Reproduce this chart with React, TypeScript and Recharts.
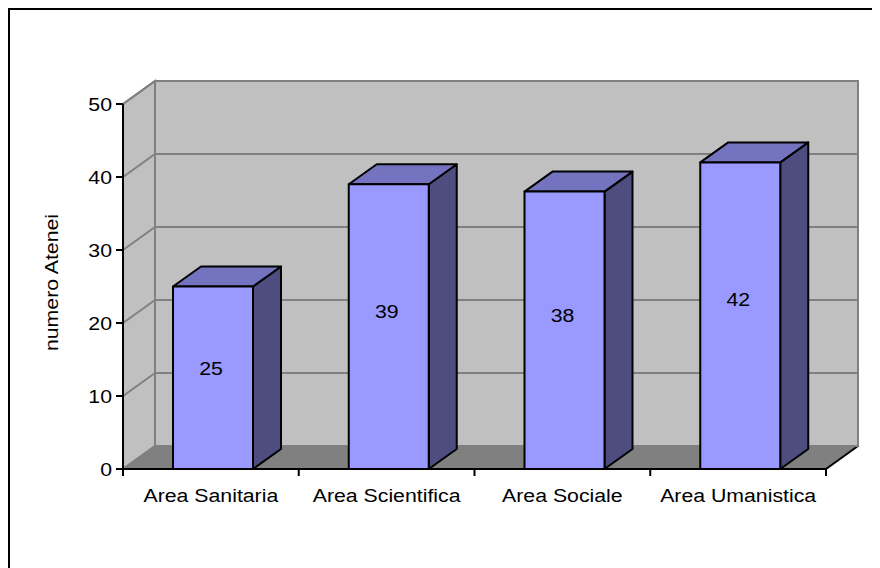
import { BarChart, Bar, XAxis, YAxis, CartesianGrid, LabelList } from "recharts";

const categories = ["Area Sanitaria", "Area Scientifica", "Area Sociale", "Area Umanistica"];
const atenei = [25, 39, 38, 42];
const yTicks = [0, 10, 20, 30, 40, 50];

const data = categories.map((name, i) => ({ name, atenei: atenei[i] }));

// chart layout (chart-local px)
const W = 870;
const H = 558;
const PLOT_TOP = 94;
const PLOT_BOTTOM = 459;
const PLOT_LEFT = 113;
const PLOT_RIGHT = 816;
const BAND = (PLOT_RIGHT - PLOT_LEFT) / categories.length;

// 3d depth of walls and bars
const DX = 32;
const DY = -23;
const BDX = 28;
const BDY = -20;

const FONT = "'Liberation Sans', Arial, sans-serif";
const FS = 19;
const SX = 1.12;

const wallGray = "#C0C0C0";
const floorGray = "#808080";
const gridGray = "#808080";

const walls = (
  <g>
    <rect
      x={PLOT_LEFT + DX}
      y={PLOT_TOP + DY}
      width={PLOT_RIGHT - PLOT_LEFT}
      height={PLOT_BOTTOM - PLOT_TOP}
      fill={wallGray}
      stroke={gridGray}
      strokeWidth={2}
    />
    <polygon
      points={`${PLOT_LEFT},${PLOT_TOP} ${PLOT_LEFT + DX},${PLOT_TOP + DY} ${PLOT_LEFT + DX},${PLOT_BOTTOM + DY} ${PLOT_LEFT},${PLOT_BOTTOM}`}
      fill={wallGray}
      stroke={gridGray}
      strokeWidth={2}
    />
    <polygon
      points={`${PLOT_LEFT},${PLOT_BOTTOM} ${PLOT_LEFT + DX},${PLOT_BOTTOM + DY} ${PLOT_RIGHT + DX},${PLOT_BOTTOM + DY} ${PLOT_RIGHT},${PLOT_BOTTOM}`}
      fill={floorGray}
    />
    <line
      x1={PLOT_RIGHT}
      y1={PLOT_BOTTOM}
      x2={PLOT_RIGHT + DX}
      y2={PLOT_BOTTOM + DY}
      stroke="#000"
      strokeWidth={2}
    />
  </g>
);

const gridLine = (p: any) => {
  const { x1, x2, y1, index } = p;
  return (
    <g key={`grid-${index}`}>
      {index === 0 && walls}
      <line x1={x1} y1={y1} x2={x1 + DX} y2={y1 + DY} stroke={gridGray} strokeWidth={2} />
      <line x1={x1 + DX} y1={y1 + DY} x2={x2 + DX} y2={y1 + DY} stroke={gridGray} strokeWidth={2} />
    </g>
  );
};

const Bar3D = (p: any) => {
  const { x, y, width, height } = p;
  const bx = x + 2;
  const r = bx + width;
  const b = y + height;
  return (
    <g strokeLinejoin="round">
      <polygon
        points={`${r},${y} ${r + BDX},${y + BDY} ${r + BDX},${b + BDY} ${r},${b}`}
        fill="#4D4D80"
        stroke="#000"
        strokeWidth={2}
      />
      <polygon
        points={`${bx},${y} ${bx + BDX},${y + BDY} ${r + BDX},${y + BDY} ${r},${y}`}
        fill="#7373BF"
        stroke="#000"
        strokeWidth={2}
      />
      <rect x={bx} y={y} width={width} height={height} fill="#9999FF" stroke="#000" strokeWidth={2} />
    </g>
  );
};

const YTick = (p: any) => {
  const { x, y, payload } = p;
  return (
    <text
      transform={`translate(${x},${y}) scale(${SX},1)`}
      textAnchor="end"
      dy="0.36em"
      fontSize={FS}
      fontFamily={FONT}
      fill="#000"
    >
      {payload.value}
    </text>
  );
};

const XTick = (p: any) => {
  const { x, y, payload, index } = p;
  const half = BAND / 2;
  return (
    <g>
      <line x1={x - half} y1={y} x2={x - half} y2={y + 7} stroke="#000" strokeWidth={2} />
      {index === categories.length - 1 && (
        <line x1={x + half} y1={y} x2={x + half} y2={y + 7} stroke="#000" strokeWidth={2} />
      )}
      <text
        transform={`translate(${x},${y + 26}) scale(${SX},1)`}
        textAnchor="middle"
        dy="0.36em"
        fontSize={FS}
        fontFamily={FONT}
        fill="#000"
      >
        {payload.value}
      </text>
    </g>
  );
};

const valueLabel = (p: any) => {
  const { x, y, width, height, value } = p;
  const cx = x + width / 2;
  const cy = y + height * 0.445;
  return (
    <text
      transform={`translate(${cx},${cy}) scale(${SX},1)`}
      textAnchor="middle"
      dy="0.36em"
      fontSize={FS}
      fontFamily={FONT}
      fill="#000"
    >
      {value}
    </text>
  );
};

const yLabel = (p: any) => {
  const vb = p.viewBox;
  const lx = vb.x + 21;
  const ly = vb.y + vb.height / 2 - 4;
  return (
    <text
      transform={`translate(${lx},${ly}) rotate(-90) scale(${SX},1)`}
      textAnchor="middle"
      dy="0.36em"
      fontSize={FS}
      fontFamily={FONT}
      fill="#000"
    >
      numero Atenei
    </text>
  );
};

export default function App() {
  return (
    <div
      style={{
        width: 872,
        height: H + 2,
        boxSizing: "border-box",
        borderLeft: "2px solid #000",
        borderTop: "2px solid #000",
        background: "#fff",
      }}
    >
      <BarChart
        width={W}
        height={H}
        data={data}
        margin={{ top: PLOT_TOP, right: W - PLOT_RIGHT, bottom: H - PLOT_BOTTOM - 30, left: 20 }}
        barSize={80}
      >
        <CartesianGrid vertical={false} horizontal={gridLine} />
        <XAxis
          dataKey="name"
          height={30}
          axisLine={{ stroke: "#000", strokeWidth: 2 }}
          tickLine={false}
          tickSize={0}
          tickMargin={0}
          tick={<XTick />}
          interval={0}
        />
        <YAxis
          width={PLOT_LEFT - 20}
          domain={[0, 50]}
          ticks={yTicks}
          axisLine={{ stroke: "#000", strokeWidth: 2 }}
          tickLine={{ stroke: "#000", strokeWidth: 2 }}
          tickSize={7}
          tickMargin={4}
          tick={<YTick />}
          label={{ content: yLabel }}
        />
        <Bar dataKey="atenei" shape={<Bar3D />} isAnimationActive={false}>
          <LabelList dataKey="atenei" content={valueLabel} />
        </Bar>
      </BarChart>
    </div>
  );
}
